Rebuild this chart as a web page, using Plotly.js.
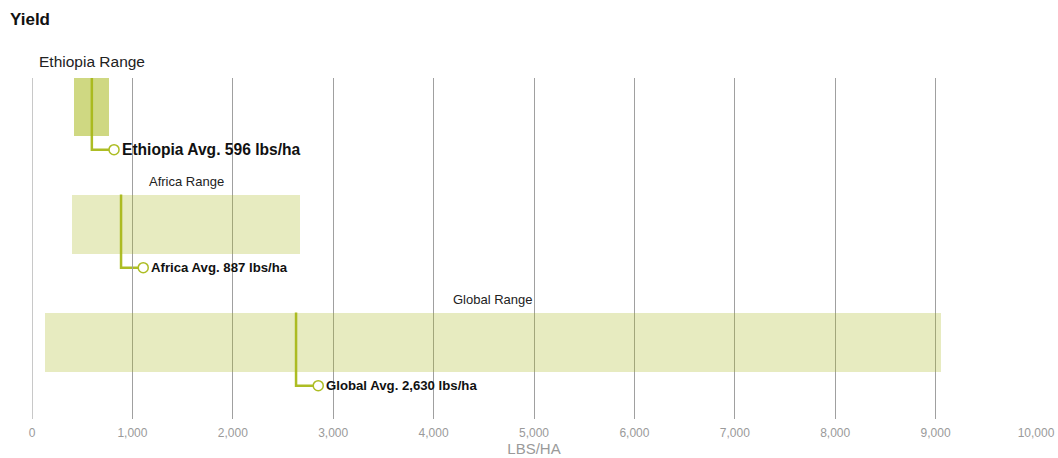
<!DOCTYPE html>
<html>
<head>
<meta charset="utf-8">
<script src="https://cdn.plot.ly/plotly-3.0.1.min.js"></script>
<style>
html,body{margin:0;padding:0;background:#fff;}
#chart{width:1058px;height:458px;}
</style>
</head>
<body>
<div id="chart"></div>
<script>
// ---- data ----
const regions = ['Ethiopia', 'Africa', 'Global'];
const rangeMin = [420, 400, 125];
const rangeMax = [770, 2670, 9050];
const avgYield = [596, 887, 2630];
const xTickVals = [0, 1000, 2000, 3000, 4000, 5000, 6000, 7000, 8000, 9000, 10000];

// ---- styling / geometry (not data) ----
const OLIVE = '#adbd24';
const barColors = ['rgba(168,184,28,0.55)', 'rgba(168,184,28,0.28)', 'rgba(168,184,28,0.28)'];
const BAR_W = 0.5;
const LEAD_DY = 0.12;      // leader drop below bar (row units)
const LEAD_DX = 221;       // leader horizontal run (x units)
const FONT = '"Liberation Sans", Arial, Helvetica, sans-serif';
const rowC0 = 106, rowSp = 118, plotTop = 78, plotBottom = 419;

const traces = [];
const annotations = [];
const shapes = [];
const rowIdx = regions.map((r, i) => i);

// leader lines as shapes below the semi-transparent bars
regions.forEach((r, i) => {
  const yTop = Math.max(i - BAR_W / 2, (plotTop - rowC0) / rowSp);
  const yLead = i + BAR_W / 2 + LEAD_DY;
  const xa = avgYield[i], xb = avgYield[i] + LEAD_DX;
  shapes.push({
    type: 'path', xref: 'x', yref: 'y', layer: 'below',
    path: 'M ' + xa + ',' + yTop + ' L ' + xa + ',' + yLead + ' L ' + xb + ',' + yLead,
    line: {color: OLIVE, width: 2.5}
  });
});

// range bars
traces.push({
  type: 'bar', orientation: 'h',
  y: rowIdx,
  base: rangeMin,
  x: rangeMax.map((v, i) => v - rangeMin[i]),
  width: BAR_W,
  marker: {color: barColors, line: {width: 0}},
  hoverinfo: 'skip', showlegend: false
});

// end circles
traces.push({
  type: 'scatter', mode: 'markers',
  x: avgYield.map(v => v + LEAD_DX),
  y: rowIdx.map(i => i + BAR_W / 2 + LEAD_DY),
  marker: {size: 10, color: '#fff', line: {color: OLIVE, width: 1.5}},
  hoverinfo: 'skip', showlegend: false, cliponaxis: false
});

regions.forEach((r, i) => {
  const big = i === 0;
  annotations.push({
    x: (rangeMin[i] + rangeMax[i]) / 2, y: i,
    xref: 'x', yref: 'y', xanchor: 'center', yanchor: 'bottom',
    yshift: BAR_W * rowSp / 2 + (big ? 5 : 4),
    text: r + ' Range', showarrow: false,
    font: {family: FONT, size: big ? 15.5 : 13, color: '#222'}
  });
  annotations.push({
    x: avgYield[i] + LEAD_DX, y: i + BAR_W / 2 + LEAD_DY,
    xref: 'x', yref: 'y', xanchor: 'left', yanchor: 'middle',
    xshift: 6,
    text: '<b>' + r + ' Avg. ' + avgYield[i].toLocaleString('en-US') + ' lbs/ha</b>',
    showarrow: false,
    font: {family: FONT, size: big ? 15.6 : 13.2, color: '#111'}
  });
});

const layout = {
  width: 1058, height: 458,
  paper_bgcolor: '#fff', plot_bgcolor: '#fff',
  margin: {l: 32, r: 22, t: plotTop, b: 458 - plotBottom},
  font: {family: FONT},
  title: {text: '<b>Yield</b>', x: 10 / 1058, xanchor: 'left', y: 0.958, yanchor: 'middle',
          xref: 'container', yref: 'container', font: {family: FONT, size: 17, color: '#111'}},
  xaxis: {
    range: [0, 10000], tickvals: xTickVals,
    ticktext: xTickVals.map(v => v.toLocaleString('en-US')),
    showgrid: true, gridcolor: '#a0a0a0', gridwidth: 1,
    zeroline: true, zerolinecolor: '#c8c8c8', zerolinewidth: 1,
    showline: false, ticks: '', ticklabelstandoff: 5,
    tickfont: {family: FONT, size: 12, color: '#9a9a9a'},
    title: {text: 'LBS/HA', standoff: 4, font: {family: FONT, size: 15, color: '#9a9a9a'}},
    fixedrange: true
  },
  yaxis: {
    range: [(plotBottom - rowC0) / rowSp, (plotTop - rowC0) / rowSp],
    showgrid: false, zeroline: false, showticklabels: false, ticks: '', fixedrange: true
  },
  bargap: 0,
  shapes: shapes,
  annotations: annotations,
  showlegend: false
};

Plotly.newPlot('chart', traces, layout, {staticPlot: true, displayModeBar: false});
</script>
</body>
</html>
